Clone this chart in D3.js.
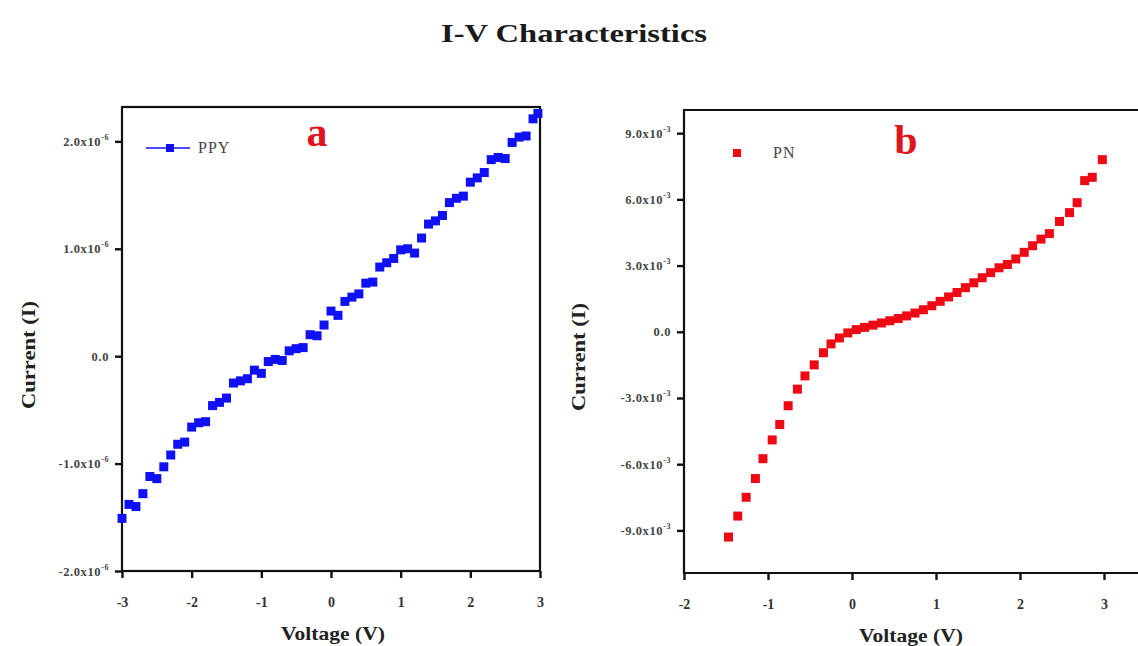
<!DOCTYPE html>
<html>
<head>
<meta charset="utf-8">
<script src="https://cdn.jsdelivr.net/npm/d3@7"></script>
<style>
  html, body { margin: 0; padding: 0; background: #fff; }
  svg { display: block; font-family: "Liberation Serif", "Times New Roman", serif; }
</style>
</head>
<body>
<svg id="chart" width="1138" height="646"></svg>
<script>
// PPY film: voltage (V) and current (x10^-6 A)
const ppyVoltage = [-3.0,-2.9,-2.8,-2.7,-2.6,-2.5,-2.4,-2.3,-2.2,-2.1,-2.0,-1.9,-1.8,-1.7,-1.6,-1.5,-1.4,-1.3,-1.2,-1.1,-1.0,
  -0.9,-0.8,-0.7,-0.6,-0.5,-0.4,-0.3,-0.2,-0.1,0.0,0.1,0.2,0.3,0.4,0.5,0.6,0.7,0.8,0.9,1.0,1.1,1.2,1.3,1.4,1.5,1.6,1.7,1.8,1.9,
  2.0,2.1,2.2,2.3,2.4,2.5,2.6,2.7,2.8,2.9,2.97];
const ppyCurrent = [-1.51,-1.38,-1.40,-1.28,-1.12,-1.14,-1.03,-0.92,-0.82,-0.80,-0.66,-0.62,-0.61,-0.46,-0.43,-0.39,-0.25,-0.23,-0.21,-0.13,-0.16,
  -0.05,-0.03,-0.04,0.05,0.07,0.08,0.20,0.19,0.29,0.42,0.38,0.51,0.55,0.58,0.68,0.69,0.83,0.87,0.91,0.99,1.00,0.96,1.10,1.23,1.26,1.31,1.43,1.47,1.49,
  1.62,1.66,1.71,1.83,1.85,1.84,1.99,2.04,2.05,2.21,2.26];

// PN composite: voltage (V) and current (x10^-3 A)
const pnVoltage = [-1.47,-1.36,-1.26,-1.15,-1.06,-0.95,-0.86,-0.76,-0.65,-0.56,-0.45,-0.34,-0.25,-0.15,-0.05,
  0.05,0.15,0.25,0.35,0.45,0.55,0.65,0.75,0.85,0.95,1.05,1.15,1.25,1.35,1.45,1.55,1.65,1.75,1.85,1.95,
  2.05,2.15,2.25,2.35,2.47,2.59,2.68,2.77,2.86,2.98];
const pnCurrent = [-9.3,-8.35,-7.5,-6.65,-5.75,-4.9,-4.2,-3.35,-2.6,-2.0,-1.5,-0.95,-0.55,-0.28,-0.05,
  0.1,0.2,0.3,0.4,0.5,0.6,0.72,0.85,1.0,1.18,1.38,1.58,1.78,2.0,2.22,2.45,2.68,2.9,3.05,3.3,
  3.6,3.9,4.2,4.45,5.0,5.4,5.85,6.85,7.0,7.8];

const ppyXTicks = [-3,-2,-1,0,1,2,3];
const ppyYTicks = [-2,-1,0,1,2];
const ppyYExp = "-6";
const pnXTicks = [-2,-1,0,1,2,3];
const pnYTicks = [-9,-6,-3,0,3,6,9];
const pnYExp = "-3";

const svg = d3.select("#chart");

svg.append("text")
  .attr("x", 574).attr("y", 42)
  .attr("text-anchor", "middle")
  .attr("font-weight", "bold").attr("font-size", 25)
  .attr("textLength", 266).attr("lengthAdjust", "spacingAndGlyphs")
  .attr("fill", "#1a1a1a")
  .text("I-V Characteristics");

function tickLabel(sel, v, exp) {
  sel.text(null);
  if (v === 0) { sel.append("tspan").text("0.0"); return; }
  sel.append("tspan").text(v.toFixed(1) + "x10");
  sel.append("tspan").attr("dy", -6).attr("font-size", 8).text(exp);
}

function panel(cfg) {
  const x = d3.scaleLinear().domain(cfg.xDomain).range([cfg.left, cfg.right]);
  const y = d3.scaleLinear().domain(cfg.yDomain).range([cfg.bottom, cfg.top]);
  const g = svg.append("g");

  // frame
  if (cfg.closed) {
    g.append("rect")
      .attr("x", cfg.left).attr("y", cfg.top)
      .attr("width", cfg.right - cfg.left).attr("height", cfg.bottom - cfg.top)
      .attr("fill", "none").attr("stroke", "#111").attr("stroke-width", 2.2);
  } else {
    g.append("path")
      .attr("d", `M${cfg.frameRight},${cfg.top}H${cfg.left}V${cfg.bottom}H${cfg.frameRight}`)
      .attr("fill", "none").attr("stroke", "#111").attr("stroke-width", 2.2);
  }

  // x axis
  const xa = g.append("g").attr("transform", `translate(0,${cfg.bottom})`)
    .call(d3.axisBottom(x).tickValues(cfg.xTicks).tickSize(7).tickFormat(d => String(d)));
  xa.select(".domain").remove();
  xa.selectAll("line").attr("stroke", "#111").attr("stroke-width", 2.4);
  xa.selectAll("text").attr("font-family", "Liberation Serif, serif")
    .attr("font-size", 14).attr("font-weight", "bold").attr("fill", "#333").attr("y", 26);

  // y axis
  const ya = g.append("g").attr("transform", `translate(${cfg.left},0)`)
    .call(d3.axisLeft(y).tickValues(cfg.yTicks).tickSize(7));
  ya.select(".domain").remove();
  ya.selectAll("line").attr("stroke", "#111").attr("stroke-width", 2.4);
  ya.selectAll("text").attr("font-family", "Liberation Serif, serif")
    .attr("font-size", 12.5).attr("font-weight", "bold").attr("fill", "#444")
    .attr("letter-spacing", 0.6).attr("x", -13)
    .each(function(d) { tickLabel(d3.select(this), d, cfg.yExp); });

  // axis titles
  g.append("text")
    .attr("x", cfg.xTitleX).attr("y", cfg.bottom + 69)
    .attr("text-anchor", "middle").attr("font-weight", "bold").attr("font-size", 19)
    .attr("textLength", 104).attr("lengthAdjust", "spacingAndGlyphs").attr("fill", "#222")
    .text("Voltage (V)");
  g.append("text")
    .attr("transform", `translate(${cfg.yTitleX},${cfg.yTitleY}) rotate(-90)`)
    .attr("text-anchor", "middle").attr("font-weight", "bold").attr("font-size", 19)
    .attr("textLength", 108).attr("lengthAdjust", "spacingAndGlyphs").attr("fill", "#222")
    .text("Current (I)");

  // data markers
  const pts = cfg.vx.map((v, i) => [v, cfg.vy[i]]);
  const s = cfg.size;
  g.append("g").selectAll("rect").data(pts).join("rect")
    .attr("x", d => x(d[0]) - s / 2).attr("y", d => y(d[1]) - s / 2)
    .attr("width", s).attr("height", s)
    .attr("fill", cfg.color);

  // panel letter
  g.append("text")
    .attr("x", cfg.letterX).attr("y", cfg.letterY)
    .attr("text-anchor", "middle").attr("font-weight", "bold").attr("font-size", 42)
    .attr("fill", "#e0141e").text(cfg.letter);

  // legend
  const lg = g.append("g").attr("transform", `translate(${cfg.legX},${cfg.legY})`);
  if (cfg.legLine) {
    lg.append("line").attr("x1", 0).attr("x2", 44).attr("y1", 0).attr("y2", 0)
      .attr("stroke", cfg.color).attr("stroke-width", 1.3);
  }
  lg.append("rect").attr("x", cfg.legMarkX - 4).attr("y", -4).attr("width", 8).attr("height", 8).attr("fill", cfg.color);
  lg.append("text").attr("x", cfg.legTextX).attr("y", 5).attr("font-size", 16)
    .attr("letter-spacing", 1).attr("fill", "#444").text(cfg.name);
}

panel({
  xDomain: [-3, 3], yDomain: [-2, 2.32],
  left: 122, right: 540, top: 107, bottom: 571, closed: true,
  xTitleX: 333,
  xTicks: ppyXTicks, yTicks: ppyYTicks, yExp: ppyYExp,
  vx: ppyVoltage, vy: ppyCurrent, color: "#1010f4", size: 9,
  yTitleX: 35, yTitleY: 355,
  letter: "a", letterX: 317, letterY: 146,
  legX: 146, legY: 148, legLine: true, legMarkX: 24, legTextX: 52, name: "PPY"
});

panel({
  xDomain: [-2, 3.5], yDomain: [-10.93, 10.05],
  left: 684, right: 1146, top: 110, bottom: 573, closed: false, frameRight: 1138,
  xTitleX: 911,
  xTicks: pnXTicks, yTicks: pnYTicks, yExp: pnYExp,
  vx: pnVoltage, vy: pnCurrent, color: "#ee0a14", size: 9,
  yTitleX: 585, yTitleY: 357,
  letter: "b", letterX: 906, letterY: 154,
  legX: 733, legY: 153, legLine: false, legMarkX: 4, legTextX: 40, name: "PN"
});
</script>
</body>
</html>
